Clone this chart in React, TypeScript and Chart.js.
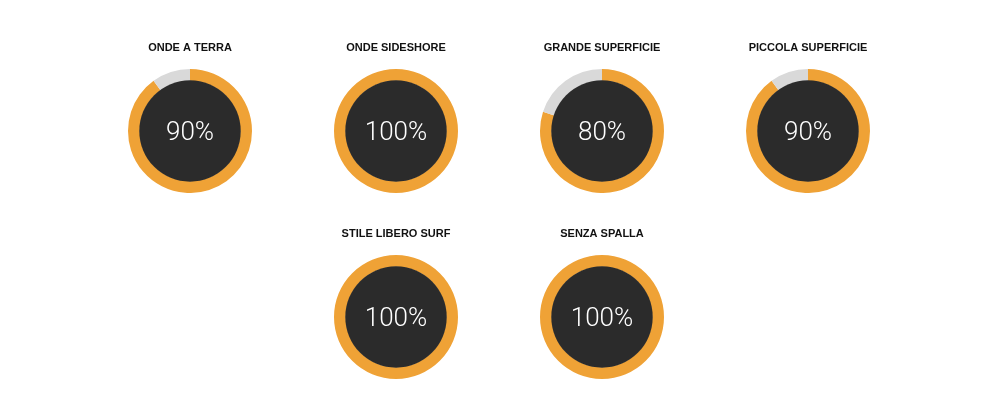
import React, { useEffect, useRef } from "react";
import { Chart, registerables } from "chart.js";

Chart.register(...registerables);

const titles = [
  "ONDE A TERRA",
  "ONDE SIDESHORE",
  "GRANDE SUPERFICIE",
  "PICCOLA SUPERFICIE",
  "STILE LIBERO SURF",
  "SENZA SPALLA",
];
const values = [90, 100, 80, 90, 100, 100];
const positions = [
  [190, 47],
  [396, 47],
  [602, 47],
  [808, 47],
  [396, 233],
  [602, 233],
];

const ORANGE = "#EFA236";
const GRAY = "#D9D9D9";
const DARK = "#2B2B2B";

const centerPlugin = {
  id: "centerCircle",
  afterDatasetsDraw(chart: any) {
    const meta = chart.getDatasetMeta(0);
    const arc = meta.data[0];
    if (!arc) return;
    const { x, y, innerRadius } = arc.getProps(["x", "y", "innerRadius"], true);
    const ctx = chart.ctx;
    ctx.save();
    ctx.beginPath();
    ctx.arc(x, y, innerRadius + 0.5, 0, Math.PI * 2);
    ctx.fillStyle = DARK;
    ctx.fill();
    ctx.fillStyle = "#FFFFFF";
    ctx.font = "300 26px Roboto, 'Helvetica Neue', Arial, sans-serif";
    ctx.textAlign = "center";
    ctx.textBaseline = "middle";
    ctx.fillText(chart.options.plugins.centerCircle.text, x, y + 2.5);
    ctx.restore();
  },
};

function Donut({ title, value, cx, ty }: { title: string; value: number; cx: number; ty: number }) {
  const ref = useRef<HTMLCanvasElement>(null);
  useEffect(() => {
    if (!ref.current) return;
    const chart = new Chart(ref.current, {
      type: "doughnut",
      data: {
        labels: ["Valore", "Resto"],
        datasets: [
          {
            data: [value, 100 - value],
            backgroundColor: [ORANGE, GRAY],
            borderWidth: 0,
            hoverOffset: 0,
          },
        ],
      },
      options: {
        animation: false,
        responsive: false,
        maintainAspectRatio: false,
        cutout: "81%",
        layout: { padding: 0 },
        events: [],
        plugins: {
          legend: { display: false },
          tooltip: { enabled: false },
          title: {
            display: true,
            text: title,
            color: "#111111",
            font: { family: "'Liberation Sans', Arial, sans-serif", size: 11, weight: "bold", lineHeight: 1.2 },
            padding: { top: 1.6, bottom: 14.2 },
          },
          centerCircle: { text: value + "%" },
        } as any,
      },
      plugins: [centerPlugin],
    });
    return () => chart.destroy();
  }, [title, value]);
  return (
    <div style={{ position: "absolute", left: cx - 103, top: ty - 7.2, width: 206, height: 153 }}>
      <canvas ref={ref} width={206} height={153} style={{ width: 206, height: 153 }} />
    </div>
  );
}

export default function App() {
  return (
    <div style={{ position: "absolute", left: 0, top: 0, width: 1000, height: 405, background: "#FFFFFF" }}>
      {titles.map((t, i) => (
        <Donut key={t} title={t} value={values[i]} cx={positions[i][0]} ty={positions[i][1]} />
      ))}
    </div>
  );
}
